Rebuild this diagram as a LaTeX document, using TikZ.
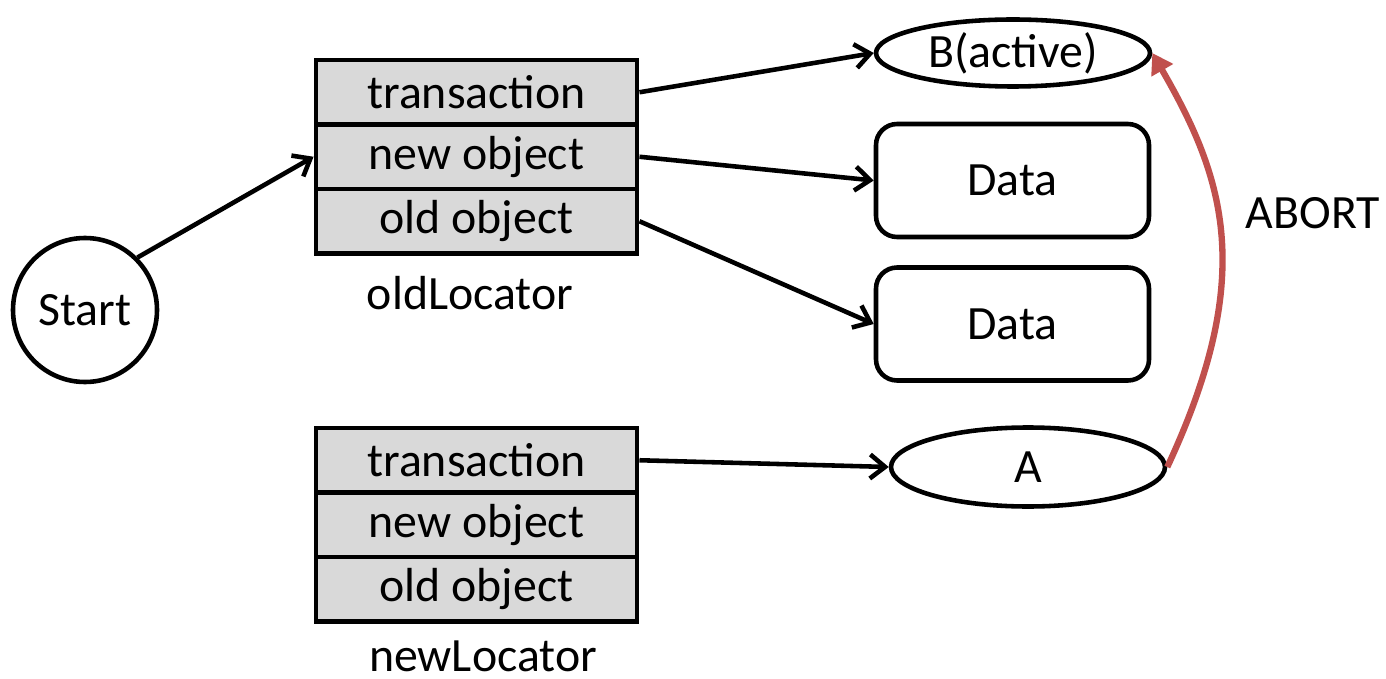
\documentclass[tikz,border=0pt]{standalone}
\usepackage{fontspec}
\setmainfont{Carlito}
\usetikzlibrary{arrows.meta,shapes.geometric}
\definecolor{abortred}{RGB}{192,80,77}

\begin{document}
\begin{tikzpicture}[
    font=\fontsize{13.6}{16}\selectfont,
    slot/.style={draw, line width=1.4pt, fill=black!15, minimum width=3.21cm, minimum height=0.645cm, inner sep=0pt},
    txn/.style={draw, ellipse, line width=1.3pt, minimum width=2.74cm, inner sep=0pt},
    databox/.style={draw, rounded corners=6pt, line width=1.3pt, minimum width=2.73cm, minimum height=1.13cm},
    ptr/.style={line width=1.3pt, -{Straight Barb[length=1.5mm,width=2.4mm]}},
    abort/.style={line width=1.8pt, draw=abortred, -{Triangle[length=2mm,width=2.4mm]}}
]
    \useasboundingbox (0,0) rectangle (13.86,6.78);

    % start
    \node[draw, circle, line width=1.3pt, minimum size=1.44cm, inner sep=0pt] (start) at (0.85,3.68) {Start};

    % old locator
    \node[slot] (oldtr) at (4.765,5.8575) {transaction};
    \node[slot] (oldnew) at (4.765,5.2125) {new object};
    \node[slot] (oldold) at (4.765,4.5675) {old object};
    \node (oldlbl) at (4.70,3.85) {oldLocator};

    % new locator
    \node[slot] (newtr) at (4.765,2.1775) {transaction};
    \node[slot] (newnew) at (4.765,1.5325) {new object};
    \node[slot] (newold) at (4.765,0.8875) {old object};
    \node[inner sep=0pt] (newlbl) at (4.83,0.22) {newLocator};

    % transactions and data
    \node[txn, minimum height=0.67cm] (B) at (10.13,6.25) {B(active)};
    \node[databox] (data1) at (10.125,4.975) {Data};
    \node[databox] (data2) at (10.125,3.54) {Data};
    \node[txn, minimum height=0.79cm] (A) at (10.28,2.11) {A};

    % pointers
    \draw[ptr] (start.45) to (oldnew.west);
    \draw[ptr] (oldtr.east) to (B.west);
    \draw[ptr] (oldnew.east) to (data1.west);
    \draw[ptr] (oldold.east) to (data2.west);
    \draw[ptr] (newtr.east) to (A.west);

    % abort
    \draw[abort] (A.east) to[out=65, in=-60, out looseness=1.3, in looseness=0.9] (B.east);
    \node (abortlbl) at (13.13,4.65) {ABORT};

\end{tikzpicture}
\end{document}
